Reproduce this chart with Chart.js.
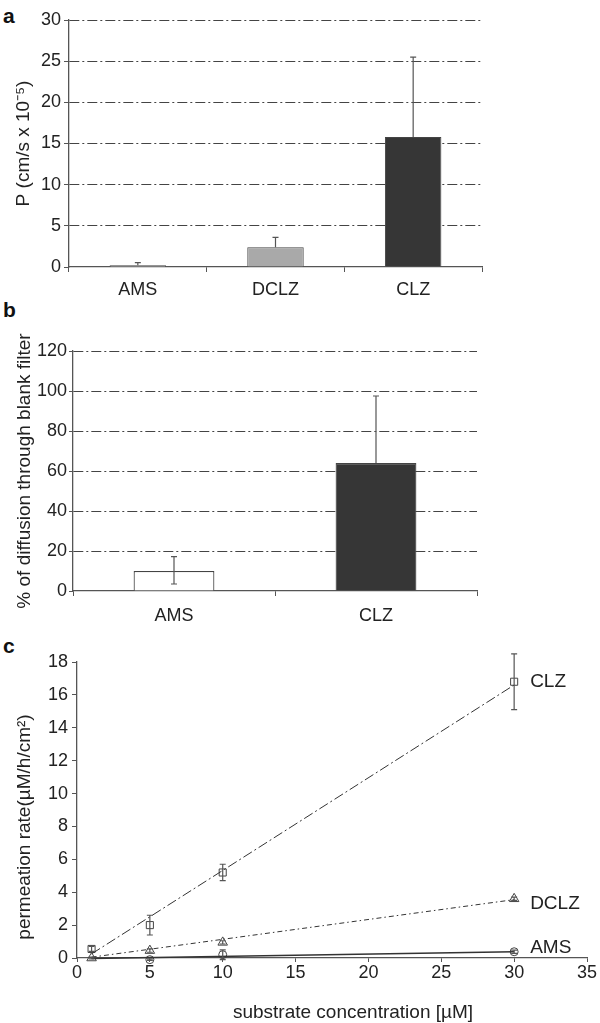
<!DOCTYPE html>
<html>
<head>
<meta charset="utf-8">
<script src="https://cdn.jsdelivr.net/npm/chart.js@4.4.1/dist/chart.umd.min.js"></script>
<style>
    body { margin: 0; background: #fff; width: 600px; height: 1023px; position: relative; overflow: hidden; font-family: "Liberation Sans", Arial, sans-serif; }
    canvas { position: absolute; left: 0; }
    .panel { position: absolute; font-weight: bold; font-size: 21px; line-height: 1; color: #111; }
</style>
</head>
<body>
<div class="panel" style="left:3px;top:5px">a</div>
<div class="panel" style="left:3px;top:299px">b</div>
<div class="panel" style="left:3px;top:635px">c</div>
<canvas id="chartA" width="600" height="300" style="top:0"></canvas>
<canvas id="chartB" width="600" height="330" style="top:300px"></canvas>
<canvas id="chartC" width="600" height="393" style="top:630px"></canvas>
<script>
// Panel a - permeability
const catsA = ['AMS', 'DCLZ', 'CLZ'];
const permA = [0.2, 2.4, 15.8];
const permErrA = [0.32, 1.2, 9.7];

// Panel b - diffusion through blank filter
const catsB = ['AMS', 'CLZ'];
const diffB = [10, 64];
const diffErrUpB = [7.2, 33.5];
const diffErrDownB = [6.5, 0];

// Panel c - permeation rate vs concentration
const concC = [1, 5, 10, 30];
const clzRate = [0.55, 2.0, 5.2, 16.8];
const clzErr = [0.15, 0.6, 0.5, 1.7];
const dclzRate = [0.0, 0.45, 0.95, 3.6];
const dclzErr = [0.05, 0.1, 0.1, 0.1];
const amsConc = [5, 10, 30];
const amsRate = [-0.1, 0.2, 0.38];
const amsErr = [0.05, 0.3, 0.1];

// trend lines (end points)
const fitX = [1, 30];
const clzFit = [0.25, 16.6];
const dclzFit = [0.05, 3.55];
const amsFit = [-0.03, 0.38];

const FONT = '"Liberation Sans", Arial, sans-serif';
const TXT = '#222';
const AXIS = '#555';
const GRID_DASH = [10, 3, 2, 3];

Chart.defaults.font.family = FONT;
Chart.defaults.color = TXT;

// error bar drawing
const errorBars = {
    id: 'errorBars',
    afterDatasetsDraw(chart) {
        const ctx = chart.ctx;
        const yScale = chart.scales.y;
        chart.data.datasets.forEach((ds, i) => {
            if (!ds.errUp) return;
            const meta = chart.getDatasetMeta(i);
            ctx.save();
            ctx.strokeStyle = '#555';
            ctx.lineWidth = 1.2;
            meta.data.forEach((el, j) => {
                const d = ds.data[j];
                const v = typeof d === 'object' ? d.y : d;
                const up = ds.errUp[j] || 0;
                const down = ds.errDown ? ds.errDown[j] || 0 : 0;
                const x = el.x;
                const yTop = yScale.getPixelForValue(v + up);
                const yBot = yScale.getPixelForValue(v - down);
                ctx.beginPath();
                ctx.moveTo(x, yTop);
                ctx.lineTo(x, yBot);
                if (up > 0) { ctx.moveTo(x - 3, yTop); ctx.lineTo(x + 3, yTop); }
                if (down > 0) { ctx.moveTo(x - 3, yBot); ctx.lineTo(x + 3, yBot); }
                ctx.stroke();
            });
            ctx.restore();
        });
    }
};

function barOptions(yMax, yStep, yTitle, sizes) {
    return {
        responsive: false,
        animation: false,
        devicePixelRatio: 1,
        layout: { padding: { top: sizes.top, right: sizes.right, left: 0, bottom: 0 } },
        plugins: { legend: { display: false }, tooltip: { enabled: false } },
        scales: {
            x: {
                offset: true,
                grid: { offset: true, drawOnChartArea: false, tickLength: 5, tickColor: AXIS, tickWidth: 1 },
                border: { color: AXIS, width: 1.3 },
                ticks: { font: { size: 18 }, color: TXT, padding: sizes.xPad },
                afterFit: s => { s.height = sizes.xh; }
            },
            y: {
                min: 0, max: yMax,
                ticks: { stepSize: yStep, font: { size: 18 }, color: TXT, padding: sizes.yPad },
                grid: {
                    color: ctx => ctx.tick && ctx.tick.value === 0 ? 'rgba(0,0,0,0)' : '#444',
                    lineWidth: 1,
                    tickLength: sizes.tickLen, tickColor: AXIS, tickBorderDash: []
                },
                border: { color: AXIS, width: 1.3, dash: GRID_DASH },
                title: { display: true, text: yTitle, font: { size: 19 }, color: TXT, padding: { top: sizes.titlePad, bottom: 0 } },
                afterFit: s => { s.width = sizes.yw; }
            }
        }
    };
}

// Panel a
new Chart(document.getElementById('chartA'), {
    type: 'bar',
    data: {
        labels: catsA,
        datasets: [{
            data: permA,
            errUp: permErrA,
            backgroundColor: ['#e6e6e6', '#a9a9a9', '#363636'],
            borderColor: '#444',
            borderWidth: 1,
            barPercentage: 0.41,
            categoryPercentage: 1
        }]
    },
    options: barOptions(30, 5, 'P (cm/s x 10\u207B\u2075)', {
        top: 20, right: 118, xh: 33, yw: 69, xPad: 7, yPad: 3, tickLen: 5, titlePad: 12
    }),
    plugins: [errorBars]
});

// Panel b
new Chart(document.getElementById('chartB'), {
    type: 'bar',
    data: {
        labels: catsB,
        datasets: [{
            data: diffB,
            errUp: diffErrUpB,
            errDown: diffErrDownB,
            backgroundColor: ['#ffffff', '#363636'],
            borderColor: '#444',
            borderWidth: 1.2,
            barPercentage: 0.4,
            categoryPercentage: 1
        }]
    },
    options: barOptions(120, 20, '% of diffusion through blank filter', {
        top: 51, right: 123, xh: 39, yw: 73, xPad: 9, yPad: 2, tickLen: 4, titlePad: 13
    }),
    plugins: [errorBars]
});

// Panel c titles and series labels
const panelCText = {
    id: 'panelCText',
    afterDraw(chart) {
        const ctx = chart.ctx;
        const area = chart.chartArea;
        ctx.save();
        ctx.fillStyle = TXT;
        ctx.font = '19px ' + FONT;
        ctx.textAlign = 'center';
        ctx.textBaseline = 'middle';
        ctx.fillText('substrate concentration [\u00B5M]', (area.left + area.right) / 2 + 21, 383);
        ctx.save();
        ctx.translate(25, (area.top + area.bottom) / 2 + 17);
        ctx.rotate(-Math.PI / 2);
        ctx.fillText('permeation rate(\u00B5M/h/cm\u00B2)', 0, 0);
        ctx.restore();

        // series names beside last point
        const dy = { CLZ: 0, DCLZ: 5, AMS: -4 };
        ctx.textAlign = 'left';
        chart.data.datasets.forEach((ds, i) => {
            if (!ds.endLabel) return;
            const pts = chart.getDatasetMeta(i).data;
            const last = pts[pts.length - 1];
            ctx.fillText(ds.endLabel, last.x + 16, last.y + dy[ds.endLabel]);
        });
        ctx.restore();
    }
};

const toXY = (xs, ys) => xs.map((x, i) => ({ x: x, y: ys[i] }));

function markerSet(name, xs, ys, errs, style, radius) {
    return {
        label: name,
        endLabel: name,
        data: toXY(xs, ys),
        errUp: errs,
        errDown: errs,
        showLine: false,
        pointStyle: style,
        pointRadius: radius,
        pointBorderColor: '#444',
        pointBackgroundColor: 'rgba(255,255,255,0)',
        pointBorderWidth: 1,
        clip: false
    };
}

function fitSet(ys, dash, width) {
    return {
        data: toXY(fitX, ys),
        showLine: true,
        borderColor: '#333',
        borderWidth: width,
        borderDash: dash,
        pointRadius: 0,
        clip: false
    };
}

new Chart(document.getElementById('chartC'), {
    type: 'scatter',
    data: {
        datasets: [
            fitSet(clzFit, [10, 3, 2, 3], 1),
            fitSet(dclzFit, [5, 3, 1.5, 3], 1),
            fitSet(amsFit, [], 1.3),
            markerSet('CLZ', concC, clzRate, clzErr, 'rect', 5),
            markerSet('DCLZ', concC, dclzRate, dclzErr, 'triangle', 5.5),
            markerSet('AMS', amsConc, amsRate, amsErr, 'circle', 4)
        ]
    },
    options: {
        responsive: false,
        animation: false,
        devicePixelRatio: 1,
        layout: { padding: { top: 32, right: 13, left: 0, bottom: 0 } },
        plugins: { legend: { display: false }, tooltip: { enabled: false } },
        scales: {
            x: {
                type: 'linear', min: 0, max: 35,
                ticks: { stepSize: 5, font: { size: 18 }, color: TXT, padding: 0 },
                grid: { drawOnChartArea: false, tickLength: 4, tickColor: AXIS },
                border: { color: AXIS, width: 1.3 },
                afterFit: s => { s.height = 65; }
            },
            y: {
                min: 0, max: 18,
                ticks: { stepSize: 2, font: { size: 18 }, color: TXT, padding: 4 },
                grid: { drawOnChartArea: false, tickLength: 5, tickColor: AXIS },
                border: { color: AXIS, width: 1.3 },
                afterFit: s => { s.width = 77; }
            }
        }
    },
    plugins: [errorBars, panelCText]
});
</script>
</body>
</html>
